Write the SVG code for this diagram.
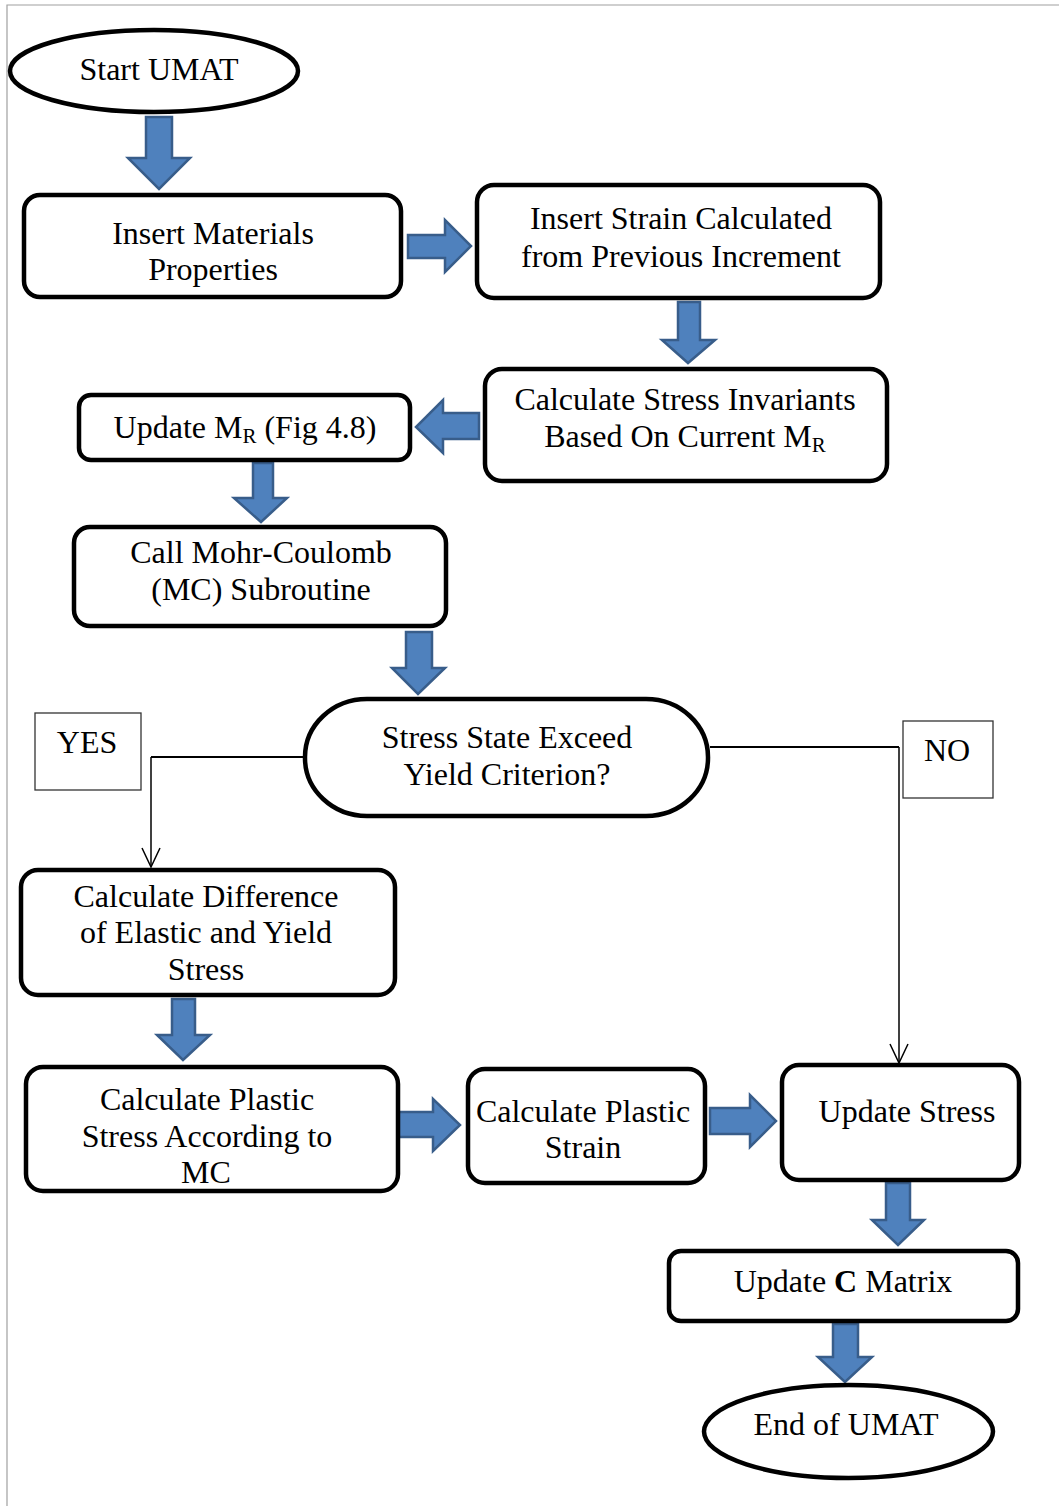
<svg xmlns="http://www.w3.org/2000/svg" width="1059" height="1506" viewBox="0 0 1059 1506">
  <style>
    .box { fill: #ffffff; stroke: #000000; stroke-width: 4.5; }
    .tag { fill: #ffffff; stroke: #333333; stroke-width: 1.3; }
    .blk { fill: #4f81bd; stroke: #385d8a; stroke-width: 2.5; stroke-linejoin: miter; }
    .wire { fill: none; stroke: #000000; stroke-width: 2; }
    .tip { fill: none; stroke: #000000; stroke-width: 1.5; }
    .frame { fill: none; stroke: #a0a0a0; stroke-width: 1.2; }
    text { font-family: "Liberation Serif", "Times New Roman", serif; font-size: 32px; fill: #000000; text-anchor: middle; }
    .sub { font-size: 21px; }
  </style>

  <rect x="0" y="0" width="1059" height="1506" fill="#ffffff"/>
  <!-- page frame -->
  <path class="frame" d="M7,1506 V5 H1059"/>

  <!-- connectors -->
  <g id="connectors">
    <!-- block arrows -->
    <polygon class="blk" points="146,117 172,117 172,158 190,158 159,189 128,158 146,158"/>
    <polygon class="blk" points="408,235 445,235 445,220 471,246 445,272 445,258 408,258"/>
    <polygon class="blk" points="678,302 700,302 700,340 715,340 688,363 662,340 678,340"/>
    <polygon class="blk" points="479,413 443,413 443,400 416,427 443,453 443,439 479,439"/>
    <polygon class="blk" points="253,463 273,463 273,498 287,498 261,522 234,498 253,498"/>
    <polygon class="blk" points="406,632 432,632 432,668 445,668 418,694 392,668 406,668"/>
    <polygon class="blk" points="172,999 195,999 195,1035 210,1035 183,1060 157,1035 172,1035"/>
    <polygon class="blk" points="398,1112 433,1112 433,1099 460,1125 433,1151 433,1137 398,1137"/>
    <polygon class="blk" points="710,1108 750,1108 750,1095 776,1121 750,1147 750,1134 710,1134"/>
    <polygon class="blk" points="886,1183 910,1183 910,1220 924,1220 898,1245 872,1220 886,1220"/>
    <polygon class="blk" points="833,1324 858,1324 858,1357 872,1357 845,1382 818,1357 833,1357"/>

    <!-- YES branch -->
    <path class="wire" d="M303,757 H151"/>
    <path class="tip" d="M151,757 V866"/>
    <path class="tip" d="M142,848 L151,867 L160,848"/>

    <!-- NO branch -->
    <path class="wire" d="M710,747 H899"/>
    <path class="tip" d="M899,747 V1062"/>
    <path class="tip" d="M890,1044 L899,1063 L908,1044"/>
  </g>

  <g id="start">
    <ellipse class="box" cx="154" cy="71" rx="144" ry="41"/>
    <text x="159" y="80">Start UMAT</text>
  </g>

  <g id="insert-materials">
    <rect class="box" x="24" y="195" width="377" height="102" rx="16"/>
    <text x="213" y="244">Insert Materials</text>
    <text x="213" y="280">Properties</text>
  </g>

  <g id="insert-strain">
    <rect class="box" x="477" y="185" width="403" height="113" rx="17"/>
    <text x="681" y="229">Insert Strain Calculated</text>
    <text x="681" y="267">from Previous Increment</text>
  </g>

  <g id="stress-invariants">
    <rect class="box" x="485" y="369" width="402" height="112" rx="17"/>
    <text x="685" y="410">Calculate Stress Invariants</text>
    <text x="685" y="447">Based On Current M<tspan class="sub" dy="5">R</tspan></text>
  </g>

  <g id="update-mr">
    <rect class="box" x="79" y="395" width="331" height="65" rx="12"/>
    <text x="245" y="438">Update M<tspan class="sub" dy="5">R</tspan><tspan dy="-5"> (Fig 4.8)</tspan></text>
  </g>

  <g id="call-mc">
    <rect class="box" x="74" y="527" width="372" height="99" rx="16"/>
    <text x="261" y="563">Call Mohr-Coulomb</text>
    <text x="261" y="600">(MC) Subroutine</text>
  </g>

  <g id="yield-check">
    <rect class="box" x="305" y="699" width="403" height="117" rx="62" ry="58"/>
    <text x="507" y="748">Stress State Exceed</text>
    <text x="507" y="785">Yield Criterion?</text>
  </g>

  <g id="label-yes">
    <rect class="tag" x="35" y="713" width="106" height="77"/>
    <text x="87" y="753">YES</text>
  </g>

  <g id="label-no">
    <rect class="tag" x="903" y="721" width="90" height="77"/>
    <text x="947" y="761">NO</text>
  </g>

  <g id="elastic-yield-diff">
    <rect class="box" x="21" y="870" width="374" height="125" rx="17"/>
    <text x="206" y="907">Calculate Difference</text>
    <text x="206" y="943">of Elastic and Yield</text>
    <text x="206" y="980">Stress</text>
  </g>

  <g id="plastic-stress">
    <rect class="box" x="26" y="1067" width="372" height="124" rx="17"/>
    <text x="207" y="1110">Calculate Plastic</text>
    <text x="207" y="1147">Stress According to</text>
    <text x="206" y="1183">MC</text>
  </g>

  <g id="plastic-strain">
    <rect class="box" x="468" y="1069" width="237" height="114" rx="17"/>
    <text x="583" y="1122">Calculate Plastic</text>
    <text x="583" y="1158">Strain</text>
  </g>

  <g id="update-stress">
    <rect class="box" x="782" y="1065" width="237" height="115" rx="17"/>
    <text x="907" y="1122">Update Stress</text>
  </g>

  <g id="update-c">
    <rect class="box" x="669" y="1251" width="349" height="70" rx="12"/>
    <text x="843" y="1292">Update <tspan font-weight="bold">C</tspan> Matrix</text>
  </g>

  <g id="end">
    <ellipse class="box" cx="848.5" cy="1431.5" rx="144.5" ry="46.5"/>
    <text x="846" y="1435">End of UMAT</text>
  </g>
</svg>
